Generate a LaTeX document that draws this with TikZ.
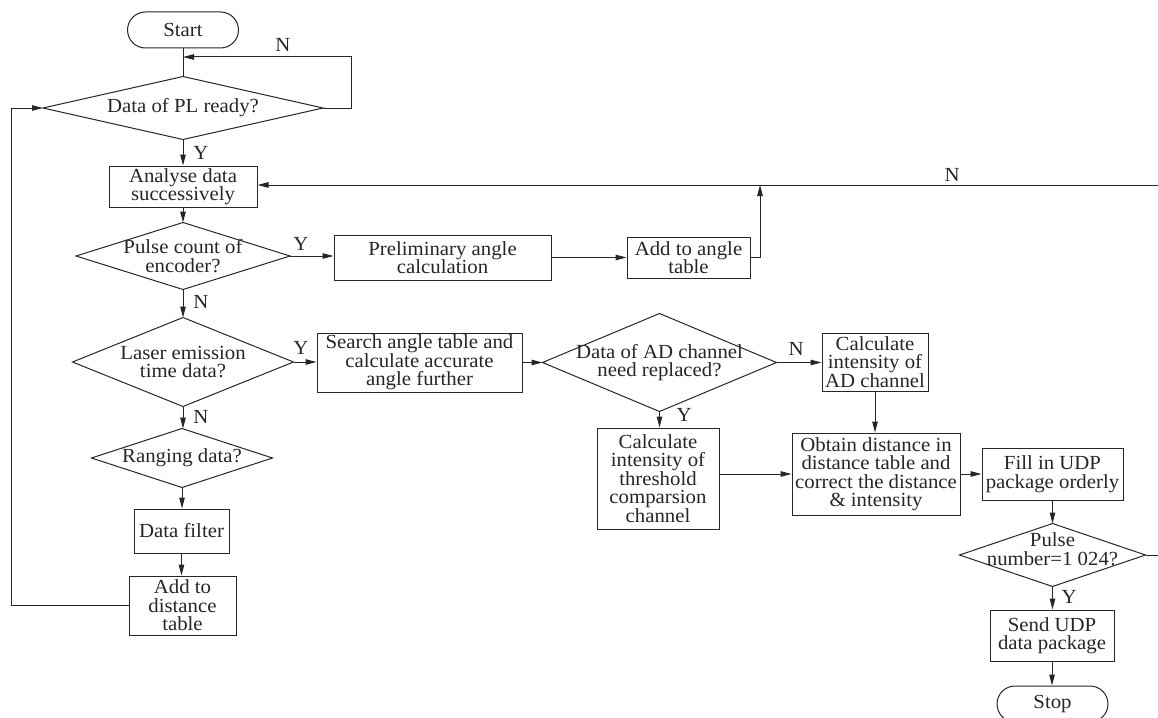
\documentclass[tikz,border=0pt]{standalone}
\usepackage{fontspec}
\setmainfont{Liberation Serif}[FakeStretch=1.04]
\usetikzlibrary{arrows.meta}
\definecolor{ink}{RGB}{38,38,38}
\begin{document}
\begin{tikzpicture}[x=1pt,y=-1pt, line width=1pt, draw=ink, text=ink,
  font=\fontsize{20}{18.5}\selectfont,
  box/.style={draw, rectangle, inner sep=0pt, align=center},
  dec/.style={rectangle, inner sep=0pt, align=center},
  term/.style={draw, rectangle, rounded corners=18pt, inner sep=0pt, minimum width=111pt, minimum height=36pt},
  arr/.style={-{Triangle[length=11pt,width=5.5pt]}},
  lbl/.style={inner sep=0pt}]
\useasboundingbox (0,0) rectangle (1158,717);

% nodes
\node[term] (start) at (183,30) {Start};
\node[dec, minimum width=279pt, minimum height=62pt] (d1) at (183,108) {Data of PL ready?};
\node[box, minimum width=148pt, minimum height=41pt] (analyse) at (183,186.5) {Analyse data\\successively};
\node[dec, minimum width=213pt, minimum height=66pt] (d2) at (183,256) {Pulse count of\\encoder?};
\node[box, minimum width=217pt, minimum height=45pt] (prelim) at (442.5,257.5) {Preliminary angle\\calculation};
\node[box, minimum width=123pt, minimum height=41pt] (addang) at (688.5,257.5) {Add to angle\\table};
\node[dec, minimum width=220pt, minimum height=88pt] (d3) at (183,362) {Laser emission\\time data?};
\node[box, minimum width=205pt, minimum height=59pt] (search) at (419.5,362.5) {Search angle table and\\calculate accurate\\angle further};
\node[dec, minimum width=233pt, minimum height=97pt] (dad) at (659.5,362.5) {Data of AD channel\\need replaced?};
\node[box, minimum width=106pt, minimum height=58pt] (calcad) at (875,362) {Calculate\\intensity of\\AD channel};
\node[box, minimum width=122pt, minimum height=101pt] (thresh) at (658,478.5) {Calculate\\intensity of\\threshold\\comparsion\\channel};
\node[box, minimum width=168pt, minimum height=82pt] (obtain) at (876,474) {Obtain distance in\\distance table and\\correct the distance\\\& intensity};
\node[box, minimum width=141pt, minimum height=52pt] (fill) at (1052.5,474) {Fill in UDP\\package orderly};
\node[dec, minimum width=185pt, minimum height=62pt] (d5) at (1052.5,555) {};
\node[lbl, align=center] (d5t) at (1052.5,549) {Pulse\\number=1 024?};
\node[box, minimum width=124pt, minimum height=51pt] (send) at (1052,635.5) {Send UDP\\data package};
\node[term] (stop) at (1052.5,704) {Stop};
\node[dec, minimum width=180pt, minimum height=58pt] (d4) at (182,458) {Ranging data?};
\node[box, minimum width=95pt, minimum height=44pt] (filter) at (181.5,531) {Data filter};
\node[box, minimum width=107pt, minimum height=59pt] (adddist) at (182.5,605.5) {Add to\\distance\\table};

% diamond outlines
\foreach \n in {d1,d2,d3,dad,d4,d5}
  \draw (\n.west) -- (\n.north) -- (\n.east) -- (\n.south) -- cycle;

% junction coordinates
\coordinate (j1) at (183,57);
\coordinate (j2) at (760,185);
\coordinate (e1) at (1162,555);
\coordinate (e2) at (1162,185);

% connectors
\draw (start.south) -- (d1.north);
\draw[arr] (d1.east) -- ++(28,0) |- (j1);
\draw[arr] (adddist.west) -- ++(-117,0) |- (d1.west);
\draw[arr] (d1.south) -- (analyse.north);
\draw[arr] (analyse.south) -- (d2.north);
\draw[arr] (d2.east) -- (d2.east -| prelim.west);
\draw[arr] (prelim.east) -- (prelim.east -| addang.west);
\draw[arr] (addang.east) -| (j2);
\draw[arr] (d5.east) -- (e1) -- (e2) -- (analyse.east |- e2);
\draw[arr] (d2.south) -- (d3.north);
\draw[arr] (d3.east) -- (d3.east -| search.west);
\draw[arr] (search.east) -- (search.east -| dad.west);
\draw[arr] (dad.east) -- (dad.east -| calcad.west);
\draw[arr] (dad.south) -- (dad.south |- thresh.north);
\draw[arr] (thresh.east |- obtain.west) -- (obtain.west);
\draw[arr] (calcad.south) -- (calcad.south |- obtain.north);
\draw[arr] (obtain.east) -- (fill.west);
\draw[arr] (fill.south) -- (fill.south |- d5.north);
\draw[arr] (d5.south) -- (d5.south |- send.north);
\draw[arr] (send.south) -- (send.south |- stop.north);
\draw[arr] (d3.south) -- (d3.south |- d4.north);
\draw[arr] (d4.south) -- (d4.south |- filter.north);
\draw[arr] (filter.south) -- (filter.south |- adddist.north);

% labels
\node[lbl] (n1) at (283,45) {N};
\node[lbl] (y1) at (201,153) {Y};
\node[lbl] (n2) at (952,175) {N};
\node[lbl] (y2) at (301,244) {Y};
\node[lbl] (n3) at (201,302) {N};
\node[lbl] (y3) at (301,348) {Y};
\node[lbl] (n4) at (796,349) {N};
\node[lbl] (y4) at (684,415) {Y};
\node[lbl] (n5) at (201,417) {N};
\node[lbl] (y5) at (1069,597) {Y};
\end{tikzpicture}
\end{document}
